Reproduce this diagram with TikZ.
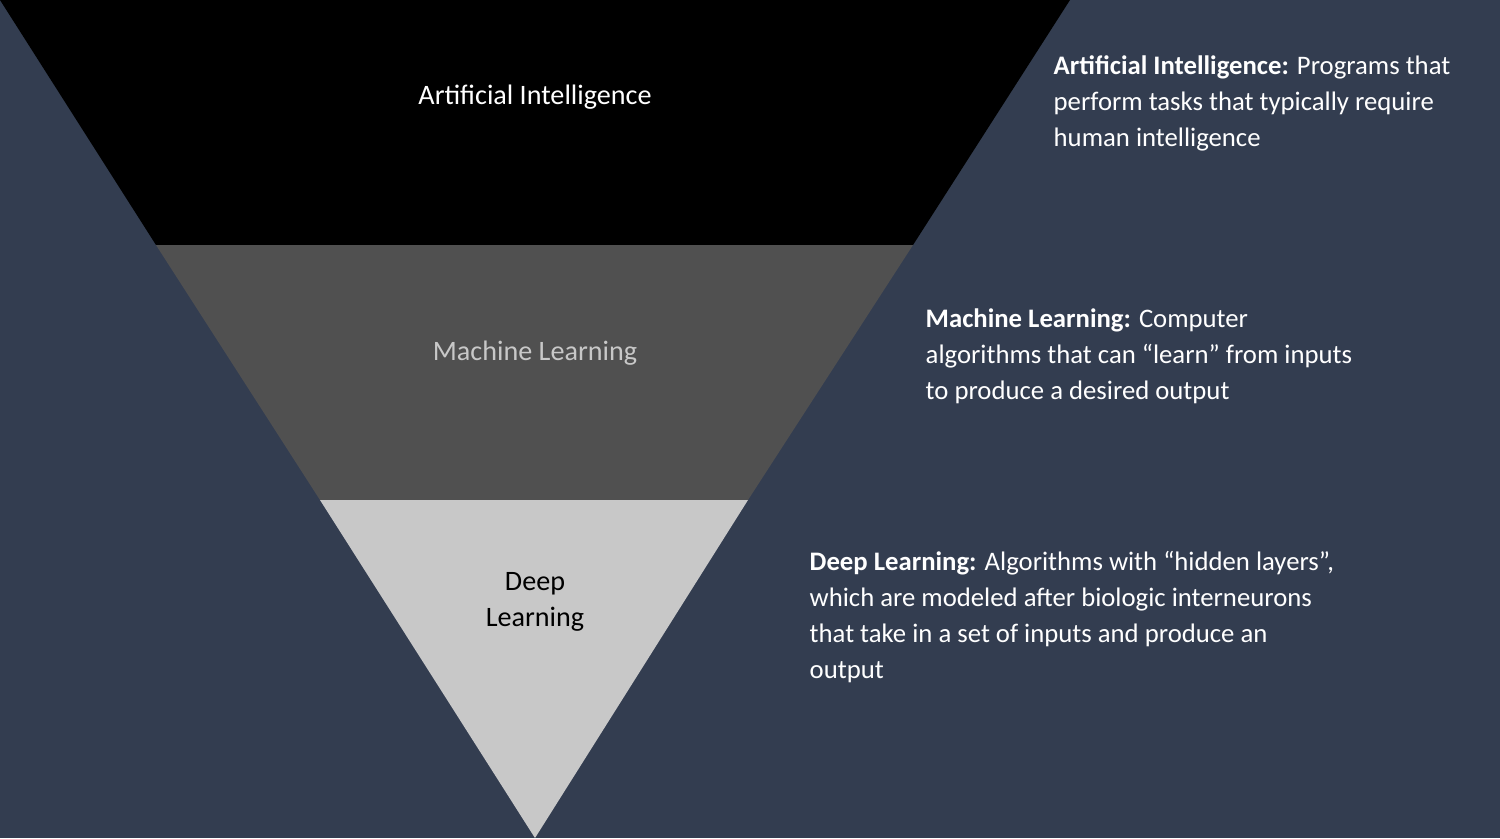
\documentclass[tikz,border=0pt]{standalone}
\usepackage{fontspec}
\setmainfont{Carlito}
\definecolor{bgblue}{HTML}{333D50}
\definecolor{mlgray}{HTML}{505050}
\definecolor{dlgray}{HTML}{C8C8C8}
\begin{document}
\begin{tikzpicture}[x=0.01cm,y=-0.01cm,
    band/.style={draw=none},
    title/.style={font=\fontsize{8}{10.2}\selectfont, align=center},
    desc/.style={font=\fontsize{7.6}{10.2}\selectfont, text=white, align=left, anchor=north west, inner sep=0pt}]
  % Background
  \fill [bgblue] (0,0) rectangle (1500,838);
  % Corners of the pyramid
  \coordinate (tl) at (0,0);
  \coordinate (tr) at (1070,0);
  \coordinate (apex) at (535,838);
  % Bands
  \fill [band, black] (tl) -- (tr) -- (913,245) -- (156,245) -- cycle;
  \fill [band, mlgray] (156,245) -- (913,245) -- (748,500) -- (320,500) -- cycle;
  \fill [band, dlgray] (320,500) -- (748,500) -- (apex) -- cycle;
  % Band titles
  \node [title, text=white] (ai) at (535,97) {Artificial Intelligence};
  \node [title, text=dlgray] (ml) at (535,353) {Machine Learning};
  \node [title, text=black] (dl) at (535,602) {Deep\\Learning};
  % Descriptions
  \node [desc] (aidesc) at (1053,55) {\textbf{Artificial Intelligence:} Programs that\\perform tasks that typically require\\human intelligence};
  \node [desc] (mldesc) at (925,308) {\textbf{Machine Learning:} Computer\\algorithms that can “learn” from inputs\\to produce a desired output};
  \node [desc] (dldesc) at (809,551) {\textbf{Deep Learning:} Algorithms with “hidden layers”,\\which are modeled after biologic interneurons\\that take in a set of inputs and produce an\\output};
\end{tikzpicture}
\end{document}
